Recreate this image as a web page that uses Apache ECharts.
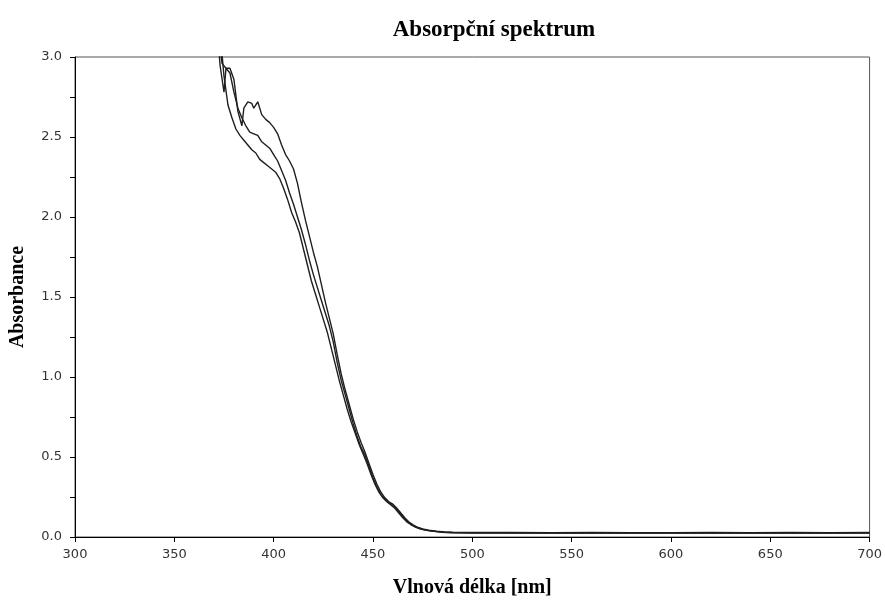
<!DOCTYPE html>
<html>
<head>
<meta charset="utf-8">
<script src="https://cdn.jsdelivr.net/npm/echarts@6/dist/echarts.min.js"></script>
<style>
  html, body { margin: 0; padding: 0; background: #fff; }
  #chart { width: 885px; height: 603px; }
</style>
</head>
<body>
<div id="chart"></div>
<script>
// wavelengths (nm) and absorbances for the three measured spectra
var wlTop  = [371, 374, 376, 378, 380, 382, 384, 385, 387, 389, 390, 392, 394, 396, 398, 400, 402, 404, 406, 408, 410, 412, 414, 416, 418, 420, 422, 424, 426, 428, 430, 432, 434, 436, 438, 440, 442, 444, 446, 448, 450, 452, 454, 456, 458, 460, 462, 464, 466, 468, 470, 472, 475, 478, 482, 486, 490, 500, 520, 540, 560, 580, 600, 620, 640, 660, 680, 700];
var absTop = [3.30, 2.96, 2.93, 2.93, 2.86, 2.66, 2.57, 2.68, 2.72, 2.71, 2.68, 2.72, 2.64, 2.61, 2.59, 2.56, 2.52, 2.45, 2.39, 2.35, 2.30, 2.21, 2.09, 1.98, 1.88, 1.78, 1.69, 1.58, 1.47, 1.37, 1.27, 1.14, 1.02, 0.92, 0.83, 0.74, 0.66, 0.59, 0.53, 0.46, 0.39, 0.33, 0.28, 0.245, 0.22, 0.205, 0.18, 0.15, 0.12, 0.095, 0.078, 0.063, 0.05, 0.042, 0.036, 0.032, 0.030, 0.029, 0.028, 0.027, 0.028, 0.027, 0.027, 0.028, 0.027, 0.028, 0.027, 0.028];

var wlMid  = [371, 373, 375, 376, 378, 380, 382, 384, 386, 388, 390, 392, 394, 396, 398, 400, 402, 404, 406, 408, 410, 412, 414, 416, 418, 420, 422, 424, 426, 428, 430, 432, 434, 436, 438, 440, 442, 444, 446, 448, 450, 452, 454, 456, 458, 460, 462, 464, 466, 468, 470, 472, 475, 478, 482, 486, 490, 500, 520, 540, 560, 580, 600, 620, 640, 660, 680, 700];
var absMid = [3.30, 2.95, 2.78, 2.93, 2.90, 2.78, 2.68, 2.62, 2.57, 2.53, 2.52, 2.51, 2.47, 2.45, 2.43, 2.39, 2.35, 2.29, 2.23, 2.15, 2.08, 2.00, 1.92, 1.83, 1.73, 1.64, 1.56, 1.48, 1.40, 1.32, 1.22, 1.09, 0.98, 0.89, 0.80, 0.71, 0.63, 0.56, 0.51, 0.44, 0.37, 0.31, 0.265, 0.235, 0.215, 0.20, 0.175, 0.145, 0.115, 0.09, 0.073, 0.06, 0.048, 0.04, 0.034, 0.030, 0.028, 0.027, 0.026, 0.027, 0.026, 0.026, 0.027, 0.026, 0.027, 0.026, 0.026, 0.027];

var wlBot  = [372, 375, 377, 379, 381, 383, 385, 387, 389, 391, 393, 395, 397, 399, 401, 403, 405, 407, 409, 411, 413, 415, 417, 419, 421, 423, 425, 427, 429, 431, 433, 435, 437, 439, 441, 443, 445, 447, 449, 451, 453, 455, 457, 459, 461, 463, 465, 467, 469, 471, 474, 477, 481, 485, 490, 500, 520, 540, 560, 580, 600, 620, 640, 660, 680, 700];
var absBot = [3.30, 2.88, 2.70, 2.62, 2.55, 2.51, 2.48, 2.45, 2.42, 2.40, 2.36, 2.34, 2.32, 2.30, 2.28, 2.24, 2.18, 2.11, 2.03, 1.97, 1.90, 1.80, 1.70, 1.60, 1.52, 1.44, 1.36, 1.28, 1.18, 1.08, 0.98, 0.89, 0.80, 0.72, 0.65, 0.58, 0.52, 0.46, 0.39, 0.33, 0.28, 0.245, 0.22, 0.20, 0.18, 0.15, 0.12, 0.095, 0.078, 0.064, 0.05, 0.042, 0.035, 0.030, 0.027, 0.025, 0.025, 0.024, 0.025, 0.024, 0.025, 0.024, 0.025, 0.024, 0.025, 0.024];

function pairs(xs, ys) {
    var out = [];
    for (var i = 0; i < xs.length; i++) out.push([xs[i], ys[i]]);
    return out;
}

var lineStyle = { color: '#1f1f1f', width: 1.4 };

function spectrum(name, xs, ys) {
    return {
        name: name,
        type: 'line',
        showSymbol: false,
        symbol: 'none',
        clip: true,
        lineStyle: lineStyle,
        data: pairs(xs, ys)
    };
}

var option = {
    backgroundColor: '#fff',
    animation: false,
    title: {
        text: 'Absorpční spektrum',
        left: 489,
        textAlign: 'center',
        top: 14,
        textStyle: {
            fontFamily: 'Liberation Serif',
            fontWeight: 'bold',
            fontSize: 23,
            color: '#000'
        }
    },
    grid: {
        left: 71,
        right: 12,
        top: 57,
        bottom: 56,
        show: true,
        borderColor: '#555',
        borderWidth: 1
    },
    xAxis: {
        type: 'value',
        min: 300,
        max: 700,
        interval: 50,
        name: 'Vlnová délka [nm]',
        nameLocation: 'middle',
        nameGap: 41,
        nameTextStyle: {
            fontFamily: 'Liberation Serif',
            fontWeight: 'bold',
            fontSize: 20,
            color: '#000'
        },
        axisLine: { lineStyle: { color: '#000', width: 1 } },
        axisTick: { show: true, length: 5, inside: false, lineStyle: { color: '#000' } },
        axisLabel: {
            margin: 11,
            fontFamily: 'DejaVu Sans',
            fontSize: 13,
            color: '#333'
        },
        splitLine: { show: false }
    },
    yAxis: {
        type: 'value',
        min: 0,
        max: 3,
        interval: 0.5,
        name: 'Absorbance',
        nameLocation: 'middle',
        nameGap: 47,
        nameTextStyle: {
            fontFamily: 'Liberation Serif',
            fontWeight: 'bold',
            fontSize: 20,
            color: '#000'
        },
        axisLine: { show: true, lineStyle: { color: '#000', width: 1 } },
        axisTick: { show: true, length: 5, lineStyle: { color: '#000' } },
        minorTick: { show: true, splitNumber: 2, length: 5, lineStyle: { color: '#000' } },
        axisLabel: {
            margin: 13,
            fontFamily: 'DejaVu Sans',
            fontSize: 13,
            color: '#333',
            formatter: function (v) { return v.toFixed(1); }
        },
        splitLine: { show: false }
    },
    series: [
        spectrum('Měření 1', wlTop, absTop),
        spectrum('Měření 2', wlMid, absMid),
        spectrum('Měření 3', wlBot, absBot)
    ]
};

var chart = echarts.init(document.getElementById('chart'), null, { renderer: 'canvas' });
chart.setOption(option);
</script>
</body>
</html>
